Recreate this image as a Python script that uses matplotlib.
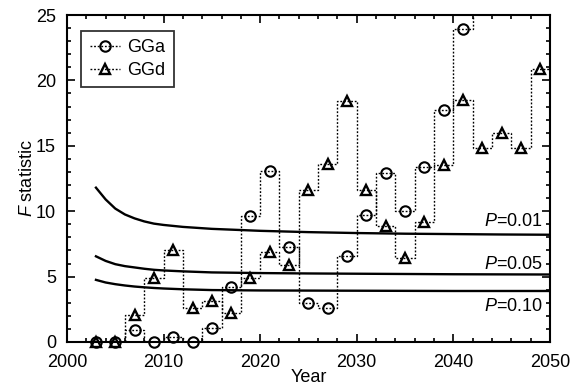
import numpy as np
import matplotlib
matplotlib.use("Agg")
import matplotlib.pyplot as plt
from matplotlib.ticker import MultipleLocator

plt.rcParams['font.family'] = ['Liberation Sans', 'DejaVu Sans']
plt.rcParams['mathtext.fontset'] = 'custom'
plt.rcParams['mathtext.it'] = 'Liberation Sans:italic'
plt.rcParams['mathtext.rm'] = 'Liberation Sans'

years = np.arange(2003, 2050, 2)
gga = [0, 0, 0.9, 0, 0.35, 0, 1.1, 4.2, 9.6, 13.1, 7.3, 3.0, 2.6, 6.6, 9.7,
       12.9, 10.0, 13.4, 17.7, 23.9, 27.0, 29.0, 31.0, 33.0]
ggd = [0, 0, 2.1, 4.9, 7.0, 2.6, 3.1, 2.2, 4.9, 6.9, 5.9, 11.6, 13.6, 18.4,
       11.6, 8.9, 6.4, 9.2, 13.5, 18.5, 14.8, 16.0, 14.8, 20.9]

crit_years = [2003, 2004, 2005, 2006, 2007, 2008, 2009, 2010, 2012, 2015,
              2020, 2025, 2030, 2035, 2040, 2045, 2050]
p01 = [11.8, 10.9, 10.2, 9.75, 9.45, 9.22, 9.05, 8.95, 8.8, 8.65, 8.5, 8.4,
       8.33, 8.28, 8.25, 8.22, 8.2]
p05 = [6.55, 6.2, 5.95, 5.8, 5.7, 5.6, 5.52, 5.47, 5.4, 5.32, 5.27, 5.24,
       5.22, 5.2, 5.18, 5.17, 5.16]
p10 = [4.75, 4.55, 4.42, 4.32, 4.24, 4.18, 4.13, 4.09, 4.03, 3.97, 3.94,
       3.93, 3.92, 3.91, 3.9, 3.9, 3.9]
p_labels = ["$P$=0.01", "$P$=0.05", "$P$=0.10"]
p_label_y = [9.2, 5.95, 2.75]

FS = 13

fig = plt.figure(figsize=(5.8, 3.85), dpi=100)
ax = fig.add_axes([0.1155, 0.1117, 0.8325, 0.8493])

edges = np.arange(2002, 2051, 2)
dot = (0, (1.3, 1.3))
ax.stairs(gga, edges, color='black', linestyle=dot, linewidth=1.0, baseline=None)
ax.stairs(ggd, edges, color='black', linestyle=dot, linewidth=1.0, baseline=None)
ax.plot(years, gga, linestyle='none', marker='o', mfc='none', mec='black',
        mew=1.5, ms=7.5, clip_on=False)
ax.plot(years, ggd, linestyle='none', marker='^', mfc='none', mec='black',
        mew=1.7, ms=7.5, clip_on=False)

for c in (p01, p05, p10):
    ax.plot(crit_years, c, color='black', linewidth=1.7)
for lab, yy in zip(p_labels, p_label_y):
    ax.text(2049.3, yy, lab, ha='right', va='center', fontsize=FS)

# legend proxies
h1, = ax.plot([], [], color='black', linestyle=dot, linewidth=1.0,
              marker='o', mfc='none', mec='black', mew=1.5, ms=7.5)
h2, = ax.plot([], [], color='black', linestyle=dot, linewidth=1.0,
              marker='^', mfc='none', mec='black', mew=1.7, ms=7.5)
leg = ax.legend([h1, h2], ['GGa', 'GGd'], loc='upper left', fontsize=FS,
                frameon=True, fancybox=False, edgecolor='black',
                bbox_to_anchor=(0.03, 0.95), handlelength=1.7,
                handletextpad=0.4, borderpad=0.45, labelspacing=0.3,
                borderaxespad=0.0)
leg.get_frame().set_linewidth(1.3)

ax.set_xlim(2000, 2050)
ax.set_ylim(0, 25)
ax.xaxis.set_major_locator(MultipleLocator(10))
ax.xaxis.set_minor_locator(MultipleLocator(2))
ax.yaxis.set_major_locator(MultipleLocator(5))
ax.yaxis.set_minor_locator(MultipleLocator(1))
ax.tick_params(which='both', direction='in', top=True, right=True,
               labelsize=FS, width=1.2)
ax.tick_params(which='major', length=6)
ax.tick_params(which='minor', length=3)
ax.tick_params(axis='x', pad=9)
ax.tick_params(axis='y', pad=8)
for s in ax.spines.values():
    s.set_linewidth(1.5)

ax.set_xlabel('Year', fontsize=FS, labelpad=-1.5)
ax.set_ylabel('$F$ statistic', fontsize=FS, labelpad=0)

fig.savefig('out.png', dpi=100)
